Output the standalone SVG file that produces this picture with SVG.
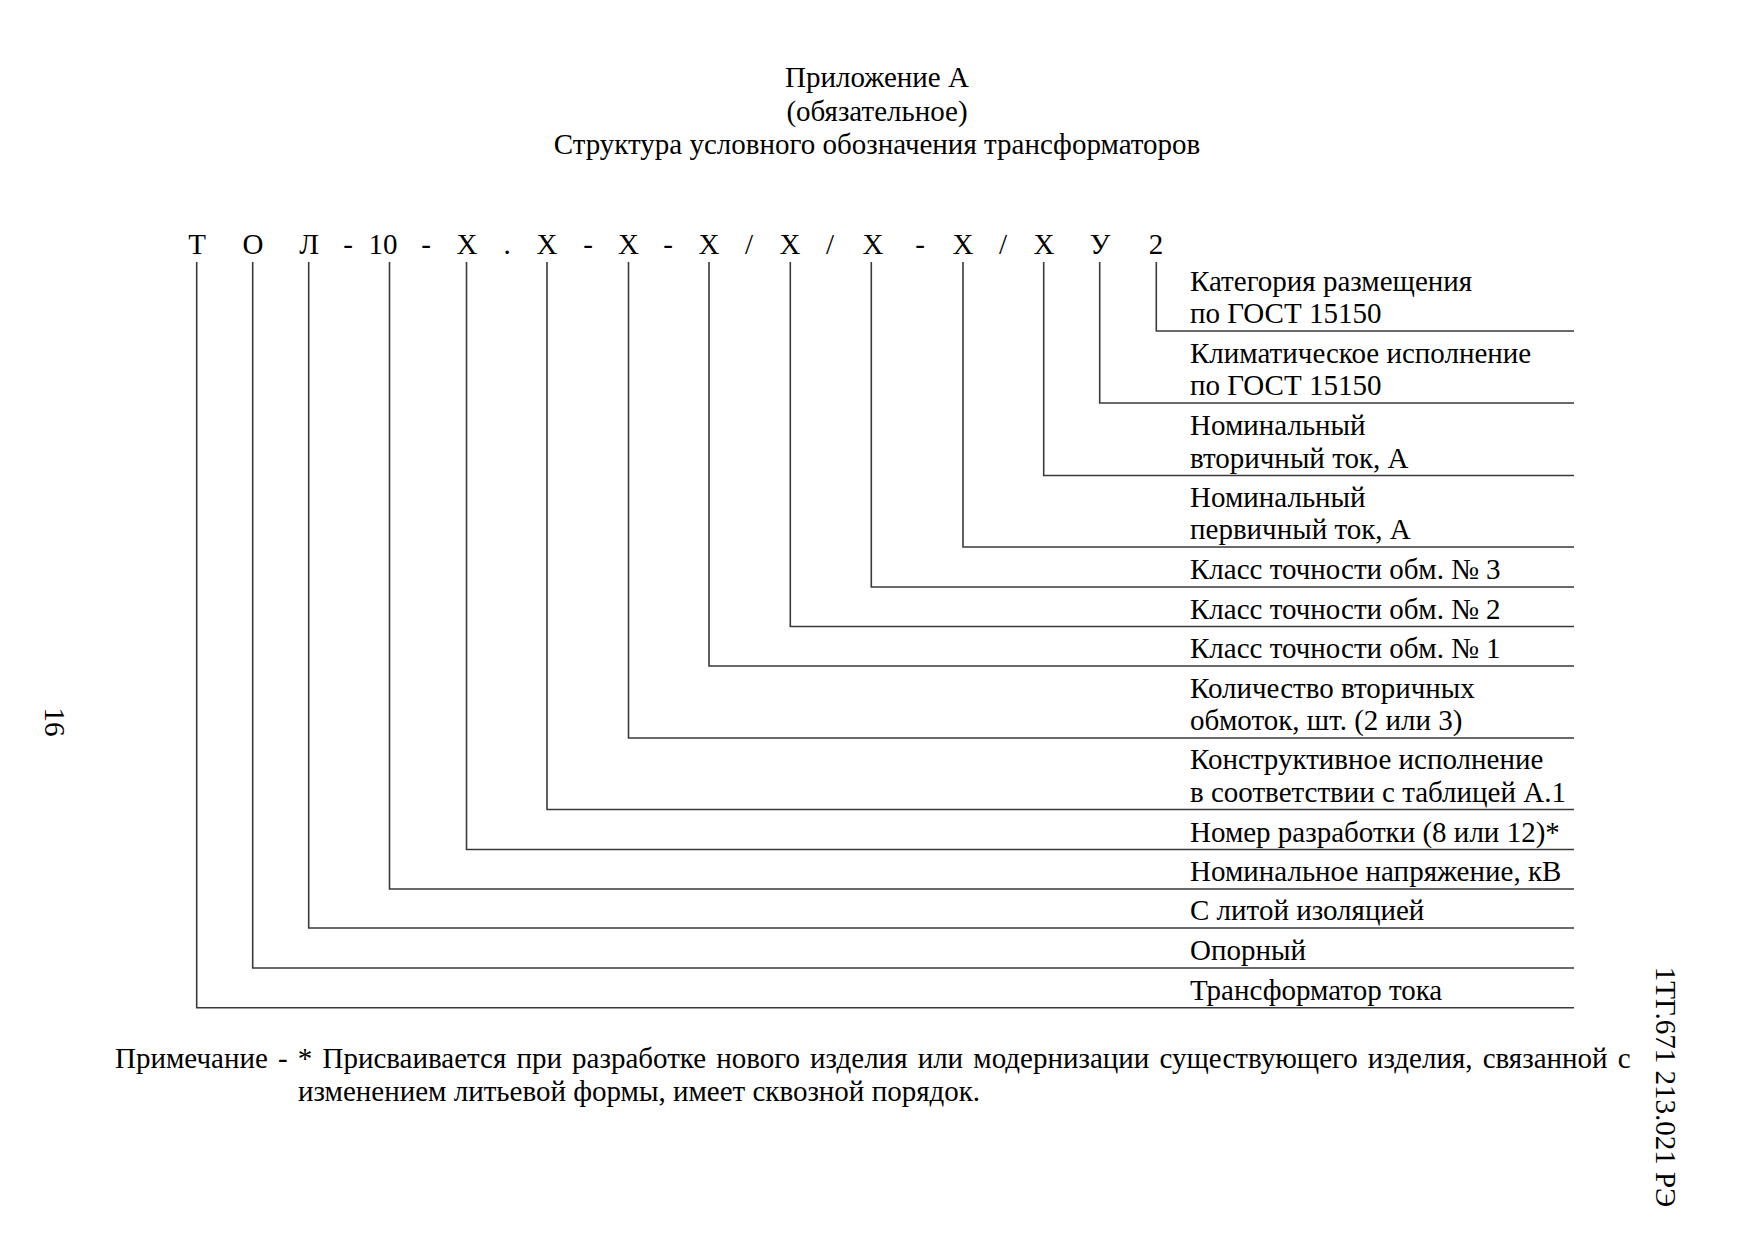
<svg xmlns="http://www.w3.org/2000/svg" width="1755" height="1241" viewBox="0 0 1755 1241">
<style>
text{font-family:"Liberation Serif","Times New Roman",serif;font-size:29px;fill:#000}
.c{text-anchor:middle}
.conn{fill:none;stroke:#3a3a3a;stroke-width:1.6}
</style>
<rect width="1755" height="1241" fill="#fff"/>
<g id="title">
<text class="c" x="877" y="87">Приложение А</text>
<text class="c" x="877" y="120.5">(обязательное)</text>
<text class="c" x="877" y="154">Структура условного обозначения трансформаторов</text>
</g>
<g id="code">
<text class="c" x="197" y="254">Т</text>
<text class="c" x="253" y="254">О</text>
<text class="c" x="309" y="254">Л</text>
<text class="c" x="348" y="254">-</text>
<text class="c" x="383" y="254">10</text>
<text class="c" x="426" y="254">-</text>
<text class="c" x="467" y="254">Х</text>
<text class="c" x="507" y="254">.</text>
<text class="c" x="547" y="254">Х</text>
<text class="c" x="588" y="254">-</text>
<text class="c" x="628.5" y="254">Х</text>
<text class="c" x="668" y="254">-</text>
<text class="c" x="709" y="254">Х</text>
<text class="c" x="749" y="254">/</text>
<text class="c" x="790" y="254">Х</text>
<text class="c" x="830" y="254">/</text>
<text class="c" x="873" y="254">Х</text>
<text class="c" x="920" y="254">-</text>
<text class="c" x="963" y="254">Х</text>
<text class="c" x="1003" y="254">/</text>
<text class="c" x="1044" y="254">Х</text>
<text class="c" x="1100" y="254">У</text>
<text class="c" x="1156" y="254">2</text>
</g>
<g id="connectors">
<path class="conn" d="M1156.3 262V331H1574"/>
<path class="conn" d="M1099.7 262V403H1574"/>
<path class="conn" d="M1043.7 262V475.5H1574"/>
<path class="conn" d="M963 262V547H1574"/>
<path class="conn" d="M871.3 262V587H1574"/>
<path class="conn" d="M790.3 262V626.5H1574"/>
<path class="conn" d="M709 262V666H1574"/>
<path class="conn" d="M628.5 262V738H1574"/>
<path class="conn" d="M547 262V809.5H1574"/>
<path class="conn" d="M466.5 262V849.5H1574"/>
<path class="conn" d="M389.5 262V889H1574"/>
<path class="conn" d="M308.7 262V928H1574"/>
<path class="conn" d="M252.7 262V968H1574"/>
<path class="conn" d="M196.7 262V1007.7H1574"/>
</g>
<g id="label-category"><text x="1190" y="291">Категория размещения</text><text x="1190" y="323">по ГОСТ 15150</text></g>
<g id="label-climate"><text x="1190" y="362.5">Климатическое исполнение</text><text x="1190" y="395">по ГОСТ 15150</text></g>
<g id="label-secondary-current"><text x="1190" y="435">Номинальный</text><text x="1190" y="467.5">вторичный ток, А</text></g>
<g id="label-primary-current"><text x="1190" y="506.5">Номинальный</text><text x="1190" y="539">первичный ток, А</text></g>
<g id="label-class3"><text x="1190" y="579">Класс точности обм. № 3</text></g>
<g id="label-class2"><text x="1190" y="618.5">Класс точности обм. № 2</text></g>
<g id="label-class1"><text x="1190" y="658">Класс точности обм. № 1</text></g>
<g id="label-windings"><text x="1190" y="697.5">Количество вторичных</text><text x="1190" y="730">обмоток, шт. (2 или 3)</text></g>
<g id="label-design"><text x="1190" y="769">Конструктивное исполнение</text><text x="1190" y="801.5">в соответствии с таблицей А.1</text></g>
<g id="label-devnumber"><text x="1190" y="841.5">Номер разработки (8 или 12)*</text></g>
<g id="label-voltage"><text x="1190" y="881">Номинальное напряжение, кВ</text></g>
<g id="label-cast"><text x="1190" y="920">С литой изоляцией</text></g>
<g id="label-support"><text x="1190" y="960">Опорный</text></g>
<g id="label-transformer"><text x="1190" y="999.5">Трансформатор тока</text></g>
<g id="note">
<text x="115" y="1068" word-spacing="2.9">Примечание - * Присваивается при разработке нового изделия или модернизации существующего изделия, связанной с</text>
<text x="298" y="1101">изменением литьевой формы, имеет сквозной порядок.</text>
</g>
<g id="page-number"><text class="c" transform="translate(45,722) rotate(90)">16</text></g>
<g id="doc-code"><text class="c" transform="translate(1656,1087) rotate(90)">1ТГ.671 213.021 РЭ</text></g>
</svg>
